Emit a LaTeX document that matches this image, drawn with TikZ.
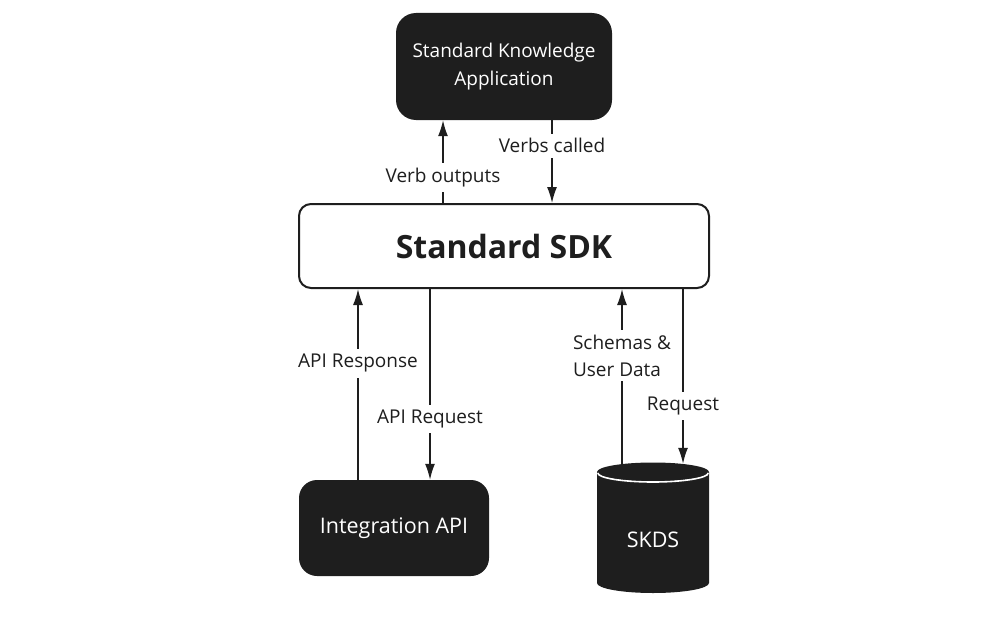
\documentclass[tikz,border=0pt]{standalone}
\usepackage{fontspec}
\setmainfont{Open Sans}
\usetikzlibrary{arrows.meta}
\definecolor{boxdark}{HTML}{1E1E1E}
\tikzset{
  darkbox/.style={rectangle, fill=boxdark, text=white, font=\fontsize{19}{28}\selectfont, align=center},
  bigtext/.style={font=\fontsize{21.5}{28}\selectfont},
  sdkbox/.style={rectangle, draw=boxdark, line width=2pt, fill=white, rounded corners=12pt, font=\fontsize{32}{36}\selectfont\bfseries, text=boxdark},
  arr/.style={line width=1.4pt, draw=boxdark, -{Latex[length=16pt,width=10pt]}},
  lbl/.style={fill=white, inner xsep=2pt, inner ysep=5pt, text=boxdark, font=\fontsize{19}{27}\selectfont}
}
\begin{document}
\begin{tikzpicture}[x=1pt,y=-1pt]
\useasboundingbox (0,0) rectangle (984,618);
\node[darkbox, minimum width=216pt, minimum height=107pt, rounded corners=20pt] (app) at (504,66.5) {Standard Knowledge\\Application};
\node[sdkbox, minimum width=410pt, minimum height=84pt] (sdk) at (504,246) {Standard SDK};
\node[darkbox, bigtext, minimum width=190pt, minimum height=96pt, rounded corners=18pt] (int) at (394,528) {Integration API};
% cylinder
\fill[boxdark] (597,472) arc[start angle=180, end angle=360, x radius=56pt, y radius=10pt] -- (709,583)
  arc[start angle=0, end angle=-180, x radius=56pt, y radius=10pt] -- cycle;
\fill[boxdark] (653,472) ellipse[x radius=56pt, y radius=9.5pt];
\draw[white, line width=1.6pt] (597.8,473) arc[start angle=180, end angle=360, x radius=55.2pt, y radius=9pt];
\node[rectangle, minimum width=112pt, minimum height=130pt] (skds) at (653,528) {};
\node[text=white, bigtext] (skdstext) at (653,540) {SKDS};
% connectors
\draw[arr] ([xshift=-61pt]sdk.north) -- node[lbl, pos=0.31] {Verb outputs} ([xshift=-61pt]app.south);
\draw[arr] ([xshift=48pt]app.south) -- node[lbl, pos=0.31] {Verbs called} ([xshift=48pt]sdk.north);
\draw[arr] ([xshift=-36pt]int.north) -- node[lbl, pos=0.61] {API Response} ([xshift=-146pt]sdk.south);
\draw[arr] ([xshift=-74pt]sdk.south) -- node[lbl, pos=0.68] {API Request} ([xshift=36pt]int.north);
\draw[arr] ([xshift=-31pt,yshift=-1pt]skds.north) -- node[lbl, pos=0.62, align=left] {Schemas \&\\User Data} ([xshift=118pt]sdk.south);
\draw[arr] ([xshift=179pt]sdk.south) -- node[lbl, pos=0.67] {Request} ([xshift=30pt,yshift=-1pt]skds.north);
\end{tikzpicture}
\end{document}
